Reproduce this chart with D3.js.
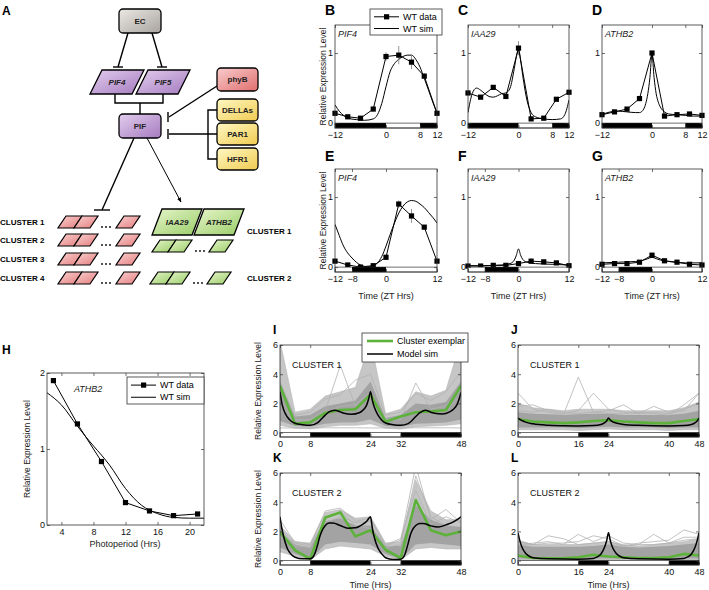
<!DOCTYPE html>
<html>
<head>
<meta charset="utf-8">
<script src="https://cdn.jsdelivr.net/npm/d3@7"></script>
<style>
  body { margin: 0; background: #fff; }
</style>
</head>
<body>
<script>
const FONT = '"Liberation Sans", Arial, Helvetica, sans-serif';

// ---- B-G: ZT time courses ----
const ztData = [-12, -9, -6, -3, 0, 3, 6, 9, 12];
const ldTicks = [-12, 0, 8, 12];
const sdTicks = [-12, -8, 0, 12];
const ldNights = [[-12, 0], [8, 12]];
const sdNights = [[-8, 0]];

const pif4LD = [0.14, 0.09, 0.07, 0.2, 0.95, 0.97, 0.87, 0.67, 0.14];
const pif4LDErr = [0.02, 0.02, 0.01, 0.02, 0.06, 0.13, 0.1, 0.04, 0.02];
const pif4LDSimT = [-12, -11, -10, -9, -7, -5, -3, -2, -1, 0, 1, 2, 3, 4, 5, 6, 7, 8, 9, 10, 11, 12];
const pif4LDSim = [0.26, 0.17, 0.11, 0.07, 0.05, 0.04, 0.06, 0.12, 0.28, 0.52, 0.74, 0.85, 0.91, 0.95, 0.97, 0.97, 0.91, 0.8, 0.64, 0.47, 0.3, 0.14];

const iaa29LD = [0.43, 0.37, 0.51, 0.38, 1.07, 0.06, 0.07, 0.34, 0.44];
const iaa29LDErr = [0.01, 0.01, 0.01, 0.01, 0.1, 0.01, 0.01, 0.01, 0.01];
const iaa29LDSimT = [-12, -11, -10, -9, -8, -7, -6, -5, -4, -3, -2, -1, -0.5, 0, 0.5, 1, 2, 3, 4, 6, 8, 10, 11, 12];
const iaa29LDSim = [0.15, 0.42, 0.5, 0.47, 0.42, 0.38, 0.37, 0.39, 0.42, 0.43, 0.5, 0.78, 0.95, 1.05, 0.9, 0.68, 0.33, 0.15, 0.09, 0.06, 0.05, 0.06, 0.12, 0.33];

const athb2LD = [0.12, 0.16, 0.2, 0.35, 1.0, 0.1, 0.12, 0.13, 0.11];
const athb2LDErr = [0.01, 0.01, 0.01, 0.01, 0.02, 0.01, 0.01, 0.01, 0.01];
const athb2LDSimT = [-12, -10, -8, -6, -4, -3, -2, -1.5, -1, -0.5, 0, 0.5, 1, 1.5, 2, 3, 4, 6, 8, 10, 12];
const athb2LDSim = [0.12, 0.16, 0.17, 0.16, 0.15, 0.15, 0.2, 0.28, 0.42, 0.65, 0.98, 0.65, 0.42, 0.3, 0.23, 0.16, 0.13, 0.12, 0.11, 0.1, 0.1];

const pif4SD = [0.085, 0.03, 0.0, 0.02, 0.14, 0.9, 0.73, 0.57, 0.085];
const pif4SDErr = [0.01, 0.01, 0.01, 0.01, 0.02, 0.05, 0.1, 0.02, 0.01];
const pif4SDSimT = [-12, -11, -10, -9, -8, -7, -6, -5, -4, -3, -2, -1, 0, 1, 2, 3, 4, 5, 6, 7, 8, 9, 10, 11, 12];
const pif4SDSim = [0.61, 0.45, 0.3, 0.2, 0.13, 0.07, 0.03, 0.01, 0.01, 0.02, 0.06, 0.15, 0.3, 0.47, 0.63, 0.77, 0.87, 0.93, 0.95, 0.94, 0.9, 0.85, 0.78, 0.71, 0.63];

const iaa29SD = [0.015, 0.015, 0.025, 0.025, 0.05, 0.085, 0.075, 0.06, 0.02];
const iaa29SDErr = [0.005, 0.005, 0.005, 0.005, 0.01, 0.01, 0.01, 0.01, 0.005];
const iaa29SDSimT = [-12, -8, -4, -2, -1, -0.5, 0, 0.5, 1, 2, 4, 8, 12];
const iaa29SDSim = [0.02, 0.02, 0.03, 0.05, 0.1, 0.17, 0.26, 0.17, 0.11, 0.07, 0.05, 0.04, 0.03];

const athb2SD = [0.04, 0.05, 0.05, 0.07, 0.17, 0.09, 0.07, 0.04, 0.03];
const athb2SDErr = [0.005, 0.005, 0.005, 0.005, 0.02, 0.01, 0.01, 0.005, 0.005];
const athb2SDSimT = [-12, -8, -4, -2, -1, 0, 1, 2, 4, 8, 12];
const athb2SDSim = [0.06, 0.07, 0.08, 0.1, 0.12, 0.14, 0.12, 0.1, 0.08, 0.06, 0.06];

// ---- H: photoperiod ----
const photoperiods = [3, 6, 9, 12, 15, 18, 21];
const athb2Photo = [1.9, 1.33, 0.835, 0.295, 0.185, 0.123, 0.145];
const athb2PhotoSimT = [2.2, 4, 6, 8, 9, 10, 12, 14, 16, 18, 20, 21.8];
const athb2PhotoSim = [1.74, 1.58, 1.3, 1.04, 0.92, 0.79, 0.48, 0.26, 0.15, 0.1, 0.09, 0.09];

// ---- I-L: clusters ----
const clusterT = [0, 4, 8, 12, 16, 20, 24, 28, 32, 36, 40, 44, 48];
const ikTicks = [0, 8, 24, 32, 48];
const jlTicks = [0, 16, 24, 40, 48];
const ikNights = [[8, 24], [32, 48]];
const jlNights = [[16, 24], [40, 48]];

const grayLoI = [0.5, 0.3, 0.25, 0.4, 0.5, 0.5, 0.6, 0.3, 0.25, 0.4, 0.45, 0.5, 0.6];
const grayHiI = [6.3, 1.4, 1.6, 2.5, 2.8, 3.1, 6.3, 1.3, 1.6, 2.8, 2.5, 2.9, 6.3];
const coreLoI = [0.8, 0.45, 0.4, 0.6, 0.7, 0.7, 0.9, 0.45, 0.4, 0.6, 0.65, 0.7, 0.9];
const coreHiI = [3.5, 1.1, 1.2, 1.8, 2.0, 2.2, 3.5, 1.0, 1.2, 2.0, 1.9, 2.1, 3.5];
const outliersI = [
  [2.0, 0.8, 0.9, 1.5, 4.6, 1.8, 2.5, 0.9, 1.0, 1.5, 1.4, 1.6, 2.5],
  [1.5, 0.9, 0.8, 1.4, 1.8, 1.9, 2.8, 0.8, 0.9, 3.4, 1.6, 1.8, 3.0],
  [2.8, 1.2, 1.4, 2.3, 2.6, 3.6, 4.0, 1.2, 1.4, 2.7, 2.2, 2.8, 4.2],
  [0.32, 0.32, 0.32, 0.33, 0.33, 0.33, 0.32, 0.32, 0.32, 0.33, 0.33, 0.33, 0.32]
];
const exemplarI = [3.2, 0.6, 0.7, 1.35, 1.55, 1.6, 2.6, 0.75, 1.1, 1.4, 1.45, 1.55, 3.2];
const simIT = [0, 0.5, 1, 2, 3, 4, 6, 8, 10, 12, 13, 14.5, 16, 17, 19, 21, 22, 23, 23.5, 24, 24.5, 25, 26, 27, 28, 30, 32, 34, 36, 37, 38.5, 40, 41, 43, 45, 46, 47, 47.5, 48];
const simI = [2.8, 2.0, 1.55, 1.05, 0.78, 0.64, 0.54, 0.5, 0.68, 1.2, 1.42, 1.54, 1.42, 1.32, 1.26, 1.36, 1.54, 1.9, 2.3, 2.8, 2.2, 1.75, 1.2, 0.85, 0.66, 0.54, 0.5, 0.62, 1.1, 1.35, 1.54, 1.4, 1.32, 1.27, 1.42, 1.6, 1.95, 2.3, 2.75];

const grayLoJ = [0.2, 0.2, 0.2, 0.2, 0.15, 0.2, 0.25, 0.2, 0.2, 0.2, 0.15, 0.2, 0.2];
const grayHiJ = [2.0, 1.7, 1.6, 1.5, 1.6, 1.6, 1.6, 1.5, 1.5, 1.5, 1.5, 1.7, 2.1];
const coreLoJ = [0.35, 0.35, 0.35, 0.35, 0.3, 0.35, 0.4, 0.35, 0.35, 0.35, 0.3, 0.35, 0.35];
const coreHiJ = [1.4, 1.3, 1.25, 1.2, 1.25, 1.3, 1.3, 1.2, 1.2, 1.2, 1.2, 1.3, 1.5];
const outliersJ = [
  [2.7, 1.6, 1.4, 1.2, 3.8, 1.4, 1.3, 1.3, 1.4, 1.3, 1.2, 1.9, 2.7],
  [1.8, 1.9, 1.5, 1.3, 1.5, 2.7, 1.6, 1.4, 1.3, 1.4, 1.3, 1.6, 2.0],
  [1.5, 1.4, 1.6, 1.4, 1.3, 1.4, 1.5, 1.9, 1.3, 1.8, 1.4, 1.5, 2.7]
];
const exemplarJ = [0.92, 0.76, 0.7, 0.65, 0.7, 0.8, 0.85, 0.76, 0.7, 0.65, 0.65, 0.8, 0.92];
const simJT = [0, 0.5, 1, 2, 4, 8, 12, 16, 20, 22, 23, 23.5, 24, 24.5, 25, 26, 28, 32, 36, 40, 44, 46, 47, 47.5, 48];
const simJ = [1.0, 0.9, 0.83, 0.72, 0.6, 0.5, 0.47, 0.46, 0.48, 0.55, 0.68, 0.8, 1.0, 0.85, 0.76, 0.66, 0.56, 0.5, 0.47, 0.46, 0.48, 0.55, 0.68, 0.8, 1.0];

const grayLoK = [0.6, 0.3, 0.05, 0.8, 1.0, 0.9, 0.8, 0.3, 0.05, 0.8, 0.9, 0.8, 0.8];
const grayHiK = [2.4, 1.3, 1.2, 3.3, 3.5, 2.9, 3.0, 1.2, 1.3, 5.5, 3.4, 2.8, 2.8];
const coreLoK = [0.9, 0.45, 0.1, 1.1, 1.3, 1.2, 1.1, 0.45, 0.1, 1.1, 1.2, 1.1, 1.0];
const coreHiK = [1.9, 1.1, 0.9, 2.7, 2.9, 2.4, 2.4, 1.0, 1.0, 3.8, 2.8, 2.4, 2.3];
const outliersK = [
  [2.8, 1.2, 1.0, 3.4, 3.6, 2.7, 2.9, 1.0, 1.4, 6.5, 2.8, 3.5, 2.6],
  [2.2, 1.0, 0.9, 2.8, 3.4, 2.4, 2.2, 0.9, 1.1, 5.8, 3.0, 2.4, 3.0],
  [1.6, 1.3, 1.1, 2.6, 3.0, 2.6, 2.7, 1.1, 1.5, 4.8, 2.5, 3.0, 2.6]
];
const exemplarK = [1.96, 0.7, 0.12, 2.95, 3.3, 1.66, 2.08, 0.74, 0.18, 4.15, 2.08, 1.73, 2.0];
const simKT = [0, 0.5, 1, 2, 3, 4, 6, 8, 9, 10, 10.5, 11, 12, 13, 14, 16, 18, 20, 22, 23, 24, 24.5, 25, 26, 27, 28, 30, 32, 33, 34, 34.5, 35, 36, 37, 38, 40, 42, 44, 46, 47, 48];
const simK = [3.0, 2.2, 1.6, 0.8, 0.42, 0.23, 0.12, 0.12, 0.35, 1.1, 1.6, 1.96, 2.4, 2.57, 2.58, 2.4, 2.22, 2.25, 2.5, 2.7, 3.0, 2.2, 1.6, 0.85, 0.46, 0.2, 0.08, 0.1, 0.35, 1.2, 1.7, 2.05, 2.4, 2.54, 2.55, 2.38, 2.3, 2.45, 2.65, 2.8, 3.0];

const grayLoL = [0.05, 0.05, 0.05, 0.05, 0.05, 0.05, 0.05, 0.05, 0.05, 0.05, 0.05, 0.05, 0.05];
const grayHiL = [1.4, 1.1, 1.1, 1.1, 1.1, 1.2, 1.3, 1.1, 1.0, 1.1, 1.2, 1.3, 1.5];
const coreLoL = [0.15, 0.12, 0.12, 0.12, 0.12, 0.15, 0.15, 0.12, 0.12, 0.12, 0.12, 0.15, 0.15];
const coreHiL = [1.1, 0.95, 0.95, 0.95, 0.95, 1.0, 1.1, 0.95, 0.9, 0.95, 1.0, 1.1, 1.2];
const outliersL = [
  [1.3, 1.1, 1.7, 1.5, 1.1, 1.2, 1.3, 1.0, 1.1, 1.1, 1.2, 1.4, 1.5],
  [1.0, 1.2, 1.3, 1.1, 1.8, 1.3, 1.7, 1.2, 1.1, 1.8, 1.2, 1.6, 1.6],
  [1.3, 1.1, 1.2, 1.2, 1.3, 1.7, 1.5, 1.0, 1.2, 1.3, 1.4, 2.1, 1.8]
];
const exemplarL = [0.35, 0.18, 0.16, 0.16, 0.23, 0.4, 0.28, 0.23, 0.18, 0.18, 0.23, 0.46, 0.35];
const simLT = [0, 0.5, 1, 2, 3, 4, 8, 16, 20, 21, 22, 23, 23.5, 24, 24.5, 25, 26, 27, 28, 32, 40, 44, 45, 46, 47, 47.5, 48];
const simL = [1.9, 1.35, 0.95, 0.5, 0.3, 0.2, 0.12, 0.1, 0.15, 0.25, 0.45, 0.95, 1.35, 1.9, 1.35, 0.95, 0.5, 0.3, 0.2, 0.12, 0.1, 0.15, 0.25, 0.45, 0.95, 1.35, 1.9];

const GREEN = "#5cb23a";

let svg = d3.select("body").append("svg")
  .attr("width", 709)
  .attr("height", 590)
  .style("font-family", FONT);

let defs = svg.append("defs");

function grad(id, c1, c2) {
  let g = defs.append("linearGradient").attr("id", id)
    .attr("x1", 0).attr("y1", 0).attr("x2", 1).attr("y2", 1);
  g.append("stop").attr("offset", "0%").attr("stop-color", c1);
  g.append("stop").attr("offset", "100%").attr("stop-color", c2);
}
grad("gGray", "#ebe8e4", "#a8a39e");
grad("gPurple", "#e2cdee", "#a57bbf");
grad("gRed", "#f9cccc", "#e06e6e");
grad("gYellow", "#fff8c4", "#f0cb50");
grad("gPink", "#fad2d2", "#e47c7c");
grad("gGreen", "#e8f6cc", "#98cc66");

defs.append("marker").attr("id", "arrow")
  .attr("viewBox", "0 0 10 10").attr("refX", 9).attr("refY", 5)
  .attr("markerWidth", 5).attr("markerHeight", 5).attr("orient", "auto")
  .append("path").attr("d", "M0,1 L10,5 L0,9 z").attr("fill", "#000");

function panelLabel(txt, x, y, size) {
  svg.append("text").attr("x", x).attr("y", y)
    .attr("font-size", size).attr("font-weight", "bold").text(txt);
}

// ---------------- A: network diagram ----------------
let A = svg.append("g");
panelLabel("A", 2, 15, 12);

const boxes = [
  {label: "EC", x: 119, y: 9, w: 42, h: 24, fill: "url(#gGray)"},
  {label: "PIF", x: 119, y: 114, w: 42, h: 24, fill: "url(#gPurple)"},
  {label: "phyB", x: 217, y: 68, w: 41, h: 23, fill: "url(#gRed)"},
  {label: "DELLAs", x: 217, y: 99, w: 41, h: 22, fill: "url(#gYellow)"},
  {label: "PAR1", x: 217, y: 123, w: 41, h: 22, fill: "url(#gYellow)"},
  {label: "HFR1", x: 217, y: 148, w: 41, h: 22, fill: "url(#gYellow)"}
];

function par(bl, yb, w, s, h) {
  return `M${bl},${yb} L${bl + w},${yb} L${bl + w + s},${yb - h} L${bl + s},${yb - h} Z`;
}

function line(x1, y1, x2, y2) {
  return A.append("line").attr("x1", x1).attr("y1", y1).attr("x2", x2).attr("y2", y2)
    .attr("stroke", "#000").attr("stroke-width", 1.4);
}

// connections
line(128, 33, 118, 67); line(113, 67, 123, 67);
line(152, 33, 162, 67); line(157, 67, 167, 67);
A.append("path").attr("d", "M115,94 V103 H163 V94 M140,103 V114")
  .attr("fill", "none").attr("stroke", "#000").attr("stroke-width", 1.4);
line(217, 86, 169, 117); line(168, 112, 168, 122);
A.append("path").attr("d", "M217,110 H208 V159 H217 M217,134 H169")
  .attr("fill", "none").attr("stroke", "#000").attr("stroke-width", 1.4);
line(168, 129, 168, 139);
line(134, 138, 102, 210); line(94, 210, 110, 210);
line(147, 138, 181, 202).attr("stroke-width", 1).attr("marker-end", "url(#arrow)");

A.selectAll("rect.node").data(boxes).join("rect").attr("class", "node")
  .attr("x", d => d.x).attr("y", d => d.y).attr("width", d => d.w).attr("height", d => d.h)
  .attr("rx", 4).attr("fill", d => d.fill).attr("stroke", "#000").attr("stroke-width", 1.3);
A.selectAll("text.node").data(boxes).join("text").attr("class", "node")
  .attr("x", d => d.x + d.w / 2).attr("y", d => d.y + d.h / 2).attr("dy", "0.35em")
  .attr("text-anchor", "middle").attr("font-size", 8).attr("font-weight", "bold")
  .attr("fill", "#222").text(d => d.label);

const pifPars = [{label: "PIF4", bl: 90}, {label: "PIF5", bl: 136}];
pifPars.forEach(p => {
  A.append("path").attr("d", par(p.bl, 94, 42, 12, 24))
    .attr("fill", "url(#gPurple)").attr("stroke", "#000").attr("stroke-width", 1.3);
  A.append("text").attr("x", p.bl + 27).attr("y", 82).attr("dy", "0.35em")
    .attr("text-anchor", "middle").attr("font-size", 8).attr("font-weight", "bold")
    .attr("font-style", "italic").attr("fill", "#222").text(p.label);
});

function dots(x, y) {
  [0, 4, 8].forEach(dx => A.append("circle").attr("cx", x + dx).attr("cy", y).attr("r", 0.9).attr("fill", "#000"));
}

const redRows = ["CLUSTER 1", "CLUSTER 2", "CLUSTER 3", "CLUSTER 4"];
const redRowY = [222, 240, 259, 278];
redRows.forEach((lab, i) => {
  let yb = redRowY[i] + 6;
  A.append("text").attr("x", 0).attr("y", redRowY[i]).attr("dy", "0.35em")
    .attr("font-size", 8).attr("font-weight", "bold").text(lab);
  [58, 74, 116].forEach(bl => A.append("path").attr("d", par(bl, yb, 16, 8, 12))
    .attr("fill", "url(#gPink)").attr("stroke", "#000").attr("stroke-width", 1.2));
  dots(102, yb - 1);
});

const bigGreen = [{label: "IAA29", bl: 152}, {label: "ATHB2", bl: 194}];
bigGreen.forEach(p => {
  A.append("path").attr("d", par(p.bl, 235, 40, 10, 26))
    .attr("fill", "url(#gGreen)").attr("stroke", "#000").attr("stroke-width", 1.3);
  A.append("text").attr("x", p.bl + 25).attr("y", 222).attr("dy", "0.35em")
    .attr("text-anchor", "middle").attr("font-size", 8).attr("font-weight", "bold")
    .attr("font-style", "italic").attr("fill", "#222").text(p.label);
});
[[252, 152], [284, 150]].forEach(([yb, x0]) => {
  [x0, x0 + 16, x0 + 57].forEach(bl => A.append("path").attr("d", par(bl, yb, 16, 8, 12))
    .attr("fill", "url(#gGreen)").attr("stroke", "#000").attr("stroke-width", 1.2));
  dots(x0 + 44, yb - 1);
});
A.append("text").attr("x", 247).attr("y", 231).attr("dy", "0.35em")
  .attr("font-size", 8).attr("font-weight", "bold").text("CLUSTER 1");
A.append("text").attr("x", 247).attr("y", 278).attr("dy", "0.35em")
  .attr("font-size", 8).attr("font-weight", "bold").text("CLUSTER 2");

// ---------------- shared axis helpers ----------------
let clipId = 0;
function clipFor(x, y) {
  let id = "clip" + (clipId++);
  defs.append("clipPath").attr("id", id).append("rect")
    .attr("x", x.range()[0]).attr("y", y.range()[1])
    .attr("width", x.range()[1] - x.range()[0]).attr("height", y.range()[0] - y.range()[1]);
  return `url(#${id})`;
}

const tickFmt = d => d < 0 ? "\u2212" + Math.abs(d) : String(d);

function drawAxes(x, y, xTicks, yTicks) {
  let [x0, x1] = x.range(), [y0, y1] = y.range();
  let g = svg.append("g");
  g.append("g").attr("transform", `translate(0,${y0})`)
    .call(d3.axisBottom(x).tickValues(xTicks).tickSizeInner(-3).tickSizeOuter(0).tickPadding(4).tickFormat(tickFmt));
  g.append("g").attr("transform", `translate(0,${y1})`)
    .call(d3.axisTop(x).tickValues(xTicks).tickSizeInner(-3).tickSizeOuter(0).tickFormat(""));
  g.append("g").attr("transform", `translate(${x0},0)`)
    .call(d3.axisLeft(y).tickValues(yTicks).tickSizeInner(-3).tickSizeOuter(0).tickPadding(2).tickFormat(tickFmt));
  g.append("g").attr("transform", `translate(${x1},0)`)
    .call(d3.axisRight(y).tickValues(yTicks).tickSizeInner(-3).tickSizeOuter(0).tickFormat(""));
  g.selectAll(".domain").remove();
  g.selectAll(".tick line").attr("stroke", "#333").attr("stroke-width", 0.7);
  g.selectAll(".tick text").attr("font-size", 9).attr("font-family", FONT).attr("fill", "#111");
  g.append("rect").attr("x", x0).attr("y", y1).attr("width", x1 - x0).attr("height", y0 - y1)
    .attr("fill", "none").attr("stroke", "#333").attr("stroke-width", 0.8);
}

function dayBar(x, y, nights, low) {
  let [x0, x1] = x.range();
  svg.append("rect").attr("x", x0).attr("y", y(0)).attr("width", x1 - x0).attr("height", y(low) - y(0))
    .attr("fill", "#fff").attr("stroke", "#333").attr("stroke-width", 0.7);
  svg.append("g").selectAll("rect").data(nights).join("rect")
    .attr("x", d => x(d[0])).attr("width", d => x(d[1]) - x(d[0]))
    .attr("y", y(0)).attr("height", y(low) - y(0)).attr("fill", "#000");
}

function yLabel(txt, x, cy) {
  svg.append("text").attr("transform", `translate(${x},${cy}) rotate(-90)`)
    .attr("text-anchor", "middle").attr("font-size", 8.5).attr("fill", "#222").text(txt);
}

function xLabel(txt, cx, y) {
  svg.append("text").attr("x", cx).attr("y", y).attr("text-anchor", "middle")
    .attr("font-size", 9).attr("fill", "#222").text(txt);
}

function drawData(x, y, t, vals, err) {
  let g = svg.append("g");
  if (err) {
    g.selectAll("line.err").data(vals).join("line").attr("class", "err")
      .attr("x1", (d, i) => x(t[i])).attr("x2", (d, i) => x(t[i]))
      .attr("y1", (d, i) => y(d - err[i])).attr("y2", (d, i) => y(d + err[i]))
      .attr("stroke", "#777").attr("stroke-width", 0.8);
  }
  g.append("path").datum(vals)
    .attr("d", d3.line().x((d, i) => x(t[i])).y(d => y(d)))
    .attr("fill", "none").attr("stroke", "#000").attr("stroke-width", 1);
  g.selectAll("rect").data(vals).join("rect")
    .attr("x", (d, i) => x(t[i]) - 2.6).attr("y", d => y(d) - 2.6)
    .attr("width", 5.2).attr("height", 5.2).attr("fill", "#000");
}

function drawSim(x, y, t, vals, width, clip) {
  svg.append("path").datum(vals)
    .attr("d", d3.line().curve(d3.curveMonotoneX).x((d, i) => x(t[i])).y(d => y(d)))
    .attr("fill", "none").attr("stroke", "#000").attr("stroke-width", width)
    .attr("clip-path", clip || null);
}

// ---------------- B-G ----------------
const colX = [[335, 437], [468, 569], [602, 702]];
const rowY = [[128, 25], [272, 169]];
const timePanels = [
  {label: "B", gene: "PIF4", v: pif4LD, e: pif4LDErr, st: pif4LDSimT, s: pif4LDSim, nights: ldNights, ticks: ldTicks, col: 0, row: 0},
  {label: "C", gene: "IAA29", v: iaa29LD, e: iaa29LDErr, st: iaa29LDSimT, s: iaa29LDSim, nights: ldNights, ticks: ldTicks, col: 1, row: 0},
  {label: "D", gene: "ATHB2", v: athb2LD, e: athb2LDErr, st: athb2LDSimT, s: athb2LDSim, nights: ldNights, ticks: ldTicks, col: 2, row: 0},
  {label: "E", gene: "PIF4", v: pif4SD, e: pif4SDErr, st: pif4SDSimT, s: pif4SDSim, nights: sdNights, ticks: sdTicks, col: 0, row: 1},
  {label: "F", gene: "IAA29", v: iaa29SD, e: iaa29SDErr, st: iaa29SDSimT, s: iaa29SDSim, nights: sdNights, ticks: sdTicks, col: 1, row: 1},
  {label: "G", gene: "ATHB2", v: athb2SD, e: athb2SDErr, st: athb2SDSimT, s: athb2SDSim, nights: sdNights, ticks: sdTicks, col: 2, row: 1}
];

timePanels.forEach(p => {
  let x = d3.scaleLinear().domain([-12, 12]).range(colX[p.col]);
  let y = d3.scaleLinear().domain([-0.07, 1.4]).range(rowY[p.row]);
  let clip = clipFor(x, y);
  drawSim(x, y, p.st, p.s, 1, clip);
  drawData(x, y, ztData, p.v, p.e);
  dayBar(x, y, p.nights, -0.07);
  drawAxes(x, y, p.ticks, [0, 1]);
  svg.append("text").attr("x", colX[p.col][0] + 3).attr("y", rowY[p.row][1] + 12)
    .attr("font-size", 9).attr("font-style", "italic").attr("fill", "#222").text(p.gene);
  panelLabel(p.label, colX[p.col][0] - 10, p.row === 0 ? 15 : 161, 14);
  if (p.col === 0) yLabel("Relative Expression Level", 326, (rowY[p.row][0] + rowY[p.row][1]) / 2);
  if (p.row === 1) xLabel("Time (ZT Hrs)", (colX[p.col][0] + colX[p.col][1]) / 2, 299);
});

function legendWT(x0, y0, w, h) {
  let g = svg.append("g");
  g.append("rect").attr("x", x0).attr("y", y0).attr("width", w).attr("height", h)
    .attr("fill", "#fff").attr("stroke", "#333").attr("stroke-width", 0.8);
  let r1 = y0 + h * 0.3, r2 = y0 + h * 0.75;
  g.append("line").attr("x1", x0 + 4).attr("x2", x0 + 29).attr("y1", r1).attr("y2", r1).attr("stroke", "#000");
  g.append("rect").attr("x", x0 + 14).attr("y", r1 - 2.6).attr("width", 5.2).attr("height", 5.2).attr("fill", "#000");
  g.append("line").attr("x1", x0 + 4).attr("x2", x0 + 29).attr("y1", r2).attr("y2", r2).attr("stroke", "#000");
  g.append("text").attr("x", x0 + 33).attr("y", r1).attr("dy", "0.35em").attr("font-size", 9).text("WT data");
  g.append("text").attr("x", x0 + 33).attr("y", r2).attr("dy", "0.35em").attr("font-size", 9).text("WT sim");
}
legendWT(370, 9, 72, 26);

// ---------------- H ----------------
{
  let x = d3.scaleLinear().domain([2.2, 21.8]).range([47, 204]);
  let y = d3.scaleLinear().domain([0, 2]).range([525, 373]);
  drawSim(x, y, athb2PhotoSimT, athb2PhotoSim, 1, clipFor(x, y));
  drawData(x, y, photoperiods, athb2Photo, null);
  drawAxes(x, y, [4, 8, 12, 16, 20], [0, 1, 2]);
  svg.append("text").attr("x", 74).attr("y", 392).attr("font-size", 9)
    .attr("font-style", "italic").attr("fill", "#222").text("ATHB2");
  legendWT(127, 377, 77, 27);
  panelLabel("H", 2, 354, 12);
  yLabel("Relative Expression Level", 30, 449);
  xLabel("Photoperiod (Hrs)", 125, 547);
}

// ---------------- I-L ----------------
const clusterPanels = [
  {label: "I", name: "CLUSTER 1", lo: grayLoI, hi: grayHiI, clo: coreLoI, chi: coreHiI, out: outliersI, ex: exemplarI, st: simIT, s: simI, xr: [280, 461], yr: [437, 345], nights: ikNights, ticks: ikTicks},
  {label: "J", name: "CLUSTER 1", lo: grayLoJ, hi: grayHiJ, clo: coreLoJ, chi: coreHiJ, out: outliersJ, ex: exemplarJ, st: simJT, s: simJ, xr: [518, 699], yr: [437, 345], nights: jlNights, ticks: jlTicks},
  {label: "K", name: "CLUSTER 2", lo: grayLoK, hi: grayHiK, clo: coreLoK, chi: coreHiK, out: outliersK, ex: exemplarK, st: simKT, s: simK, xr: [280, 461], yr: [565, 473], nights: ikNights, ticks: ikTicks},
  {label: "L", name: "CLUSTER 2", lo: grayLoL, hi: grayHiL, clo: coreLoL, chi: coreHiL, out: outliersL, ex: exemplarL, st: simLT, s: simL, xr: [518, 699], yr: [565, 473], nights: jlNights, ticks: jlTicks}
];

clusterPanels.forEach(p => {
  let x = d3.scaleLinear().domain([0, 48]).range(p.xr);
  let y = d3.scaleLinear().domain([-0.3, 6]).range(p.yr);
  let clip = clipFor(x, y);
  let g = svg.append("g").attr("clip-path", clip);
  let band = (lo, hi) => d3.area().x((d, i) => x(clusterT[i])).y0(d => y(d)).y1((d, i) => y(hi[i]))(lo);
  g.append("path").attr("d", band(p.lo, p.hi))
    .attr("fill", "#c6c6c6").attr("stroke", "#b5b5b5").attr("stroke-width", 0.6);
  g.append("path").attr("d", band(p.clo, p.chi))
    .attr("fill", "#a3a3a3");
  g.selectAll("path.gene").data(p.out).join("path").attr("class", "gene")
    .attr("d", d3.line().x((d, i) => x(clusterT[i])).y(d => y(d)))
    .attr("fill", "none").attr("stroke", "#b3b3b3").attr("stroke-width", 0.8);
  g.append("path").datum(p.ex)
    .attr("d", d3.line().x((d, i) => x(clusterT[i])).y(d => y(d)))
    .attr("fill", "none").attr("stroke", GREEN).attr("stroke-width", 2.6).attr("stroke-linejoin", "round");
  drawSim(x, y, p.st, p.s, 1.5, clip);
  dayBar(x, y, p.nights, -0.3);
  drawAxes(x, y, p.ticks, [0, 2, 4, 6]);
  svg.append("text").attr("x", p.xr[0] + 12).attr("y", p.yr[1] + 20).attr("dy", "0.35em")
    .attr("font-size", 9).attr("fill", "#111").text(p.name);
  panelLabel(p.label, p.xr[0] - 7, p.yr[1] - 11, 12);
  if (p.xr[0] === 280) yLabel("Relative Expression Level", 261, (p.yr[0] + p.yr[1]) / 2);
  if (p.yr[0] === 565) xLabel("Time (Hrs)", (p.xr[0] + p.xr[1]) / 2, 588);
});

// legend I
{
  let g = svg.append("g");
  g.append("rect").attr("x", 362).attr("y", 333).attr("width", 106).attr("height", 29)
    .attr("fill", "#fff").attr("stroke", "#333").attr("stroke-width", 0.8);
  g.append("line").attr("x1", 367).attr("x2", 393).attr("y1", 341).attr("y2", 341)
    .attr("stroke", GREEN).attr("stroke-width", 2.6);
  g.append("line").attr("x1", 367).attr("x2", 393).attr("y1", 354).attr("y2", 354)
    .attr("stroke", "#000").attr("stroke-width", 1.5);
  g.append("text").attr("x", 397).attr("y", 341).attr("dy", "0.35em").attr("font-size", 9).text("Cluster exemplar");
  g.append("text").attr("x", 397).attr("y", 354).attr("dy", "0.35em").attr("font-size", 9).text("Model sim");
}
</script>
</body>
</html>
